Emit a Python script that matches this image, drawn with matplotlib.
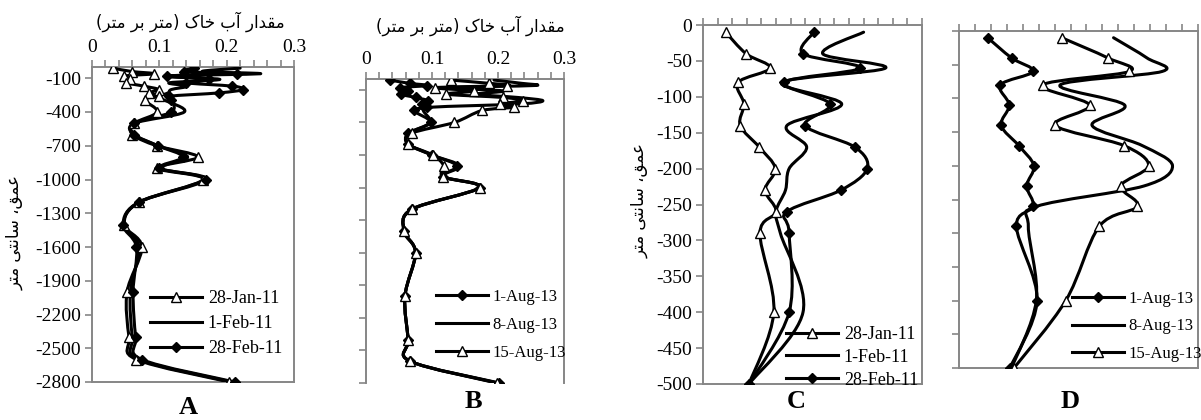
import numpy as np
import matplotlib
matplotlib.use("Agg")
import matplotlib.pyplot as plt
from matplotlib.path import Path
from matplotlib.patches import PathPatch
from matplotlib.lines import Line2D
from matplotlib.ticker import MultipleLocator

# ---------------- data ----------------
depth = [-10, -40, -60, -80, -110, -140, -170, -200, -230, -260, -290, -400, -500,
         -600, -700, -800, -900, -1000, -1200, -1400, -1600, -2000, -2400, -2600, -2800]

# winter 2011 (panels A and C)
jan28 = [0.031, 0.059, 0.092, 0.048, 0.056, 0.051, 0.077, 0.099, 0.085, 0.100, 0.078, 0.097, 0.063,
         0.060, 0.096, 0.157, 0.097, 0.165, 0.070, 0.048, 0.074, 0.052, 0.055, 0.066, 0.204]
feb1 = [0.220, 0.164, 0.250, 0.108, 0.190, 0.115, 0.142, 0.118, 0.113, 0.100, 0.106, 0.137, 0.063,
        0.062, 0.098, 0.142, 0.102, 0.166, 0.071, 0.047, 0.070, 0.057, 0.060, 0.070, 0.208]
feb28 = [0.152, 0.137, 0.215, 0.111, 0.174, 0.140, 0.208, 0.225, 0.189, 0.115, 0.118, 0.118, 0.063,
         0.063, 0.098, 0.135, 0.100, 0.170, 0.070, 0.046, 0.066, 0.061, 0.065, 0.074, 0.212]

# summer 2013 (panels B and D)
aug1 = [0.036, 0.066, 0.093, 0.052, 0.063, 0.053, 0.075, 0.094, 0.085, 0.093, 0.072, 0.098, 0.064,
        0.064, 0.100, 0.138, 0.117, 0.172, 0.069, 0.058, 0.075, 0.059, 0.064, 0.067, 0.202]
aug8 = [0.194, 0.236, 0.255, 0.127, 0.208, 0.167, 0.230, 0.268, 0.232, 0.098, 0.087, 0.097, 0.066,
        0.064, 0.100, 0.142, 0.117, 0.172, 0.069, 0.058, 0.075, 0.059, 0.064, 0.067, 0.200]
aug15 = [0.129, 0.187, 0.214, 0.105, 0.164, 0.121, 0.207, 0.238, 0.203, 0.224, 0.176, 0.134, 0.069,
         0.064, 0.101, 0.118, 0.117, 0.172, 0.070, 0.057, 0.075, 0.059, 0.064, 0.067, 0.198]

labels_2011 = ["28-Jan-11", "1-Feb-11", "28-Feb-11"]
labels_2013 = ["1-Aug-13", "8-Aug-13", "15-Aug-13"]
xticks_main = [0, 0.1, 0.2, 0.3]
xticklabels_main = ["0", "0.1", "0.2", "0.3"]
xlabel_fa = "مقدار آب خاک (متر بر متر)"
ylabel_fa = "عمق، سانتی متر"
panel_letters = ["A", "B", "C", "D"]
n_shallow = 13  # depths down to -500 shown in panels C and D

# ---------------- Persian shaping (presentation forms, visual order) ----------------
FORMS = {
    'ا': ('\uFE8D', '\uFE8E', None, None),
    'آ': ('\uFE81', '\uFE82', None, None),
    'ب': ('\uFE8F', '\uFE90', '\uFE91', '\uFE92'),
    'ت': ('\uFE95', '\uFE96', '\uFE97', '\uFE98'),
    'خ': ('\uFEA5', '\uFEA6', '\uFEA7', '\uFEA8'),
    'د': ('\uFEA9', '\uFEAA', None, None),
    'ر': ('\uFEAD', '\uFEAE', None, None),
    'س': ('\uFEB1', '\uFEB2', '\uFEB3', '\uFEB4'),
    'ع': ('\uFEC9', '\uFECA', '\uFECB', '\uFECC'),
    'ق': ('\uFED5', '\uFED6', '\uFED7', '\uFED8'),
    'م': ('\uFEE1', '\uFEE2', '\uFEE3', '\uFEE4'),
    'ن': ('\uFEE5', '\uFEE6', '\uFEE7', '\uFEE8'),
    'ک': ('\uFB8E', '\uFB8F', '\uFB90', '\uFB91'),
    'ی': ('\uFBFC', '\uFBFD', '\uFBFE', '\uFBFF'),
}


def shape_fa(s):
    out = []
    for i, ch in enumerate(s):
        if ch not in FORMS:
            out.append(ch)
            continue
        iso, fin, ini, med = FORMS[ch]
        prev = s[i - 1] if i > 0 else None
        nxt = s[i + 1] if i + 1 < len(s) else None
        pj = prev in FORMS and FORMS[prev][2] is not None
        nj = nxt in FORMS and ini is not None
        if pj and nj:
            out.append(med)
        elif pj:
            out.append(fin)
        elif nj:
            out.append(ini)
        else:
            out.append(iso)
    vis = ''.join(reversed(out))
    vis = vis.translate(str.maketrans({'(': ')', ')': '('}))
    return vis


# ---------------- helpers ----------------
W, H = 1201, 420
fig = plt.figure(figsize=(W / 100, H / 100), dpi=100)
GRAY = "#868686"
SERIF = ["Liberation Serif", "DejaVu Serif"]
FA = ["DejaVu Sans"]
TICK_FS = 14


def ax_at(l, t, r, b):
    return fig.add_axes([l / W, 1 - b / H, (r - l) / W, (b - t) / H])


def smooth_path(x, y):
    pts = np.column_stack([np.asarray(x, float), np.asarray(y, float)])
    n = len(pts)
    verts = [pts[0]]
    codes = [Path.MOVETO]
    for i in range(n - 1):
        p0 = pts[i - 1] if i > 0 else pts[i]
        p1 = pts[i]
        p2 = pts[i + 1]
        p3 = pts[i + 2] if i + 2 < n else pts[i + 1]
        verts += [p1 + (p2 - p0) / 6.0, p2 - (p3 - p1) / 6.0, p2]
        codes += [Path.CURVE4] * 3
    return Path(verts, codes)


STYLES = [
    dict(marker='^', mfc='white', mec='black', ms=7, mew=1.0),
    dict(marker=None),
    dict(marker='D', mfc='black', mec='black', ms=5.5, mew=1.0),
]
STYLES_2013 = [
    dict(marker='D', mfc='black', mec='black', ms=5.5, mew=1.0),
    dict(marker=None),
    dict(marker='^', mfc='white', mec='black', ms=7, mew=1.0),
]
LW = 2.2


def draw_series(ax, xs, ys, style):
    patch = PathPatch(smooth_path(xs, ys), fill=False, ec='black', lw=LW,
                      capstyle='round', joinstyle='round', zorder=3)
    ax.add_patch(patch)
    if style.get('marker'):
        ax.plot(xs, ys, ls='none', zorder=4, **style)


def style_axes(ax, ylim, ystep, ylabels, xlabels, bottom=True):
    ax.set_xlim(0, 0.3)
    ax.set_ylim(*ylim)
    ax.xaxis.tick_top()
    ax.set_xticks(xticks_main)
    ax.xaxis.set_minor_locator(MultipleLocator(0.02))
    if xlabels:
        ax.set_xticklabels(xticklabels_main, fontfamily=SERIF, fontsize=TICK_FS)
    else:
        ax.set_xticklabels([])
    yt = np.arange(ylim[0], ylim[1] + 1, ystep) if ylim[0] == -500 else np.arange(ylim[0], 0, ystep)
    ax.set_yticks(yt)
    if ylabels:
        ax.set_yticklabels([str(int(v)) for v in yt], fontfamily=SERIF, fontsize=TICK_FS)
    else:
        ax.set_yticklabels([])
    ax.tick_params(axis='x', which='both', direction='out', length=5, width=1.2,
                   color=GRAY, top=True, bottom=False, labeltop=xlabels, labelbottom=False, pad=3)
    ax.tick_params(axis='y', which='both', direction='out', length=5, width=1.2,
                   color=GRAY, left=True, right=False, pad=3)
    for s in ax.spines.values():
        s.set_color(GRAY)
        s.set_linewidth(1.4)
    ax.spines['bottom'].set_visible(bottom)


def add_legend(ax, labels, styles, x_px, y_px, fs, spacing, handlelen):
    handles = []
    for st in styles:
        if st.get('marker'):
            handles.append(Line2D([], [], color='black', lw=LW, **st))
        else:
            handles.append(Line2D([], [], color='black', lw=LW))
    ax.legend(handles, labels, loc='upper left', bbox_to_anchor=(x_px / W, 1 - y_px / H),
              bbox_transform=fig.transFigure, frameon=False, borderpad=0, borderaxespad=0,
              handlelength=handlelen, handletextpad=0.3, labelspacing=spacing, numpoints=1,
              prop=dict(family=SERIF, size=fs))


# ---------------- panel A ----------------
axA = ax_at(92, 67, 294, 382)
for vals, st in zip([jan28, feb1, feb28], STYLES):
    draw_series(axA, vals, depth, st)
style_axes(axA, (-2800, 0), 300, True, True)
add_legend(axA, labels_2011, STYLES, 150, 290, 13, 0.45, 2.9)

# ---------------- panel B ----------------
axB = ax_at(366, 79, 564, 383)
for vals, st in zip([aug1, aug8, aug15], STYLES_2013):
    draw_series(axB, vals, depth, st)
style_axes(axB, (-2800, 0), 300, False, True, bottom=False)
add_legend(axB, labels_2013, STYLES_2013, 436, 289, 12, 0.72, 3.1)

# ---------------- panel C ----------------
axC = ax_at(703, 25, 922, 384)
for vals, st in zip([jan28, feb1, feb28], STYLES):
    draw_series(axC, vals[:n_shallow], depth[:n_shallow], st)
style_axes(axC, (-500, 0), 50, True, False)
add_legend(axC, labels_2011, STYLES, 786, 326, 13, 0.32, 2.9)

# ---------------- panel D ----------------
axD = ax_at(959, 31, 1198, 368)
for vals, st in zip([aug1, aug8, aug15], STYLES_2013):
    draw_series(axD, vals[:n_shallow], depth[:n_shallow], st)
style_axes(axD, (-500, 0), 50, False, False)
add_legend(axD, labels_2013, STYLES_2013, 1072, 291, 12, 0.68, 3.1)

# ---------------- Persian axis titles ----------------
fa_x = shape_fa(xlabel_fa)
fa_y = shape_fa(ylabel_fa)
fig.text(190 / W, 1 - 22 / H, fa_x, ha='center', va='center', fontsize=12, family=FA)
fig.text(470 / W, 1 - 26 / H, fa_x, ha='center', va='center', fontsize=12, family=FA)
fig.text(15 / W, 1 - 232 / H, fa_y, ha='center', va='center', rotation=90, fontsize=12, family=FA)
fig.text(640 / W, 1 - 200 / H, fa_y, ha='center', va='center', rotation=90, fontsize=12, family=FA)

# ---------------- panel letters ----------------
for letter, (px, py) in zip(panel_letters, [(188, 407), (473, 402), (796, 402), (1070, 402)]):
    fig.text(px / W, 1 - py / H, letter, ha='center', va='center', fontsize=19,
             fontweight='bold', family=SERIF)

fig.savefig("out.png", dpi=100)
